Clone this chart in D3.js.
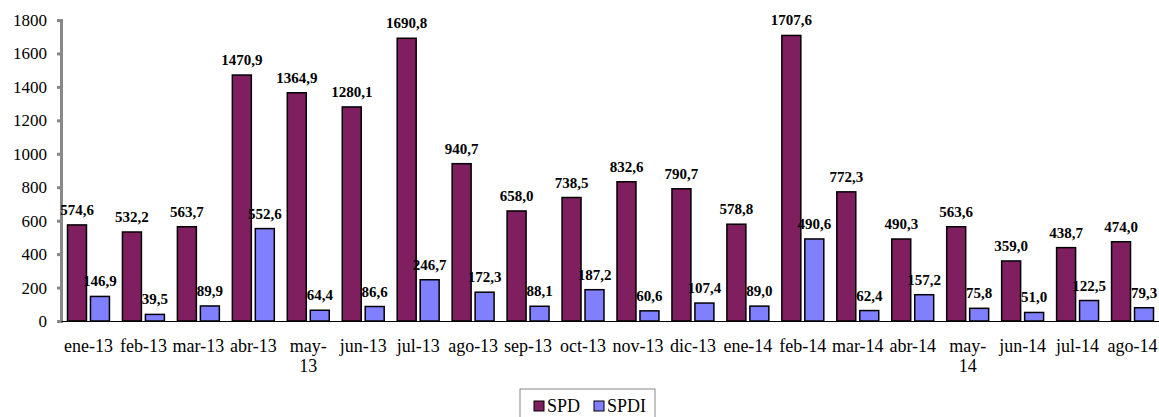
<!DOCTYPE html>
<html lang="es">
<head>
  <meta charset="UTF-8">
  <title>SPD / SPDI</title>
  <style>
    body { margin: 0; background: #fff; }
    text { font-family: "Liberation Serif", "Times New Roman", serif; }
  </style>
</head>
<body>
  <svg id="chart"></svg>
  <script src="https://cdn.jsdelivr.net/npm/d3@7"></script>
  <script>
    var months = ["ene-13", "feb-13", "mar-13", "abr-13", "may-13", "jun-13", "jul-13", "ago-13", "sep-13", "oct-13",
      "nov-13", "dic-13", "ene-14", "feb-14", "mar-14", "abr-14", "may-14", "jun-14", "jul-14", "ago-14"];
    var spd = [574.6, 532.2, 563.7, 1470.9, 1364.9, 1280.1, 1690.8, 940.7, 658.0, 738.5,
      832.6, 790.7, 578.8, 1707.6, 772.3, 490.3, 563.6, 359.0, 438.7, 474.0];
    var spdi = [146.9, 39.5, 89.9, 552.6, 64.4, 86.6, 246.7, 172.3, 88.1, 187.2,
      60.6, 107.4, 89.0, 490.6, 62.4, 157.2, 75.8, 51.0, 122.5, 79.3];
    var seriesNames = ["SPD", "SPDI"];
    var yTicks = [0, 200, 400, 600, 800, 1000, 1200, 1400, 1600, 1800];

    var width = 1159, height = 417;
    var colors = { SPD: "#7f1f5f", SPDI: "#8080ff" };

    var svg = d3.select("#chart").attr("width", width).attr("height", height);

    var x0 = d3.scaleBand().domain(months).range([61, 1160]);
    var x1 = d3.scaleBand().domain(seriesNames)
      .range([0, x0.bandwidth()])
      .paddingInner(0.174)
      .paddingOuter(0.283);
    var y = d3.scaleLinear().domain([0, 1800]).range([321, 20]);

    var rows = months.map(function (m, i) {
      return { month: m, values: [{ key: "SPD", v: spd[i] }, { key: "SPDI", v: spdi[i] }] };
    });

    // y axis (gray)
    var yAxis = svg.append("g")
      .attr("transform", "translate(61,0)")
      .call(d3.axisLeft(y).tickValues(yTicks).tickSize(4).tickPadding(10).tickFormat(d3.format("d")));
    yAxis.select(".domain").attr("stroke", "#888").attr("stroke-width", 3);
    yAxis.selectAll(".tick line").attr("stroke", "#888").attr("stroke-width", 3);
    yAxis.selectAll(".tick text")
      .attr("fill", "#000")
      .style("font-family", "'Liberation Serif', serif")
      .style("font-size", "17px");

    // bars
    var groups = svg.selectAll("g.month")
      .data(rows)
      .enter()
      .append("g")
      .attr("class", "month")
      .attr("transform", function (d) { return "translate(" + x0(d.month) + ",0)"; });

    groups.selectAll("rect")
      .data(function (d) { return d.values; })
      .enter()
      .append("rect")
      .attr("x", function (d) { return x1(d.key); })
      .attr("y", function (d) { return y(d.v); })
      .attr("width", x1.bandwidth())
      .attr("height", function (d) { return y(0) - y(d.v); })
      .attr("fill", function (d) { return colors[d.key]; })
      .attr("stroke", "#000")
      .attr("stroke-width", 1.5);

    // x axis
    var xAxis = svg.append("g")
      .attr("transform", "translate(0," + y(0) + ")")
      .call(d3.axisBottom(x0).tickSize(0).tickPadding(0));
    xAxis.select(".domain").attr("stroke", "#000").attr("stroke-width", 1.2);
    xAxis.selectAll(".tick text")
      .attr("fill", "#000")
      .attr("dy", null)
      .attr("y", 31)
      .style("font-family", "'Liberation Serif', serif")
      .style("font-size", "18px")
      .each(function (d) {
        var t = d3.select(this);
        if (this.getComputedTextLength() > 54) {
          var parts = d.split("-");
          t.text(null);
          t.append("tspan").attr("x", 0).attr("y", 31).text(parts[0] + "-");
          t.append("tspan").attr("x", 0).attr("y", 51).text(parts[1]);
        }
      });

    // value labels
    groups.selectAll("text.val")
      .data(function (d) { return d.values; })
      .enter()
      .append("text")
      .attr("class", "val")
      .attr("x", function (d) { return x1(d.key) + x1.bandwidth() / 2; })
      .attr("y", function (d) { return y(d.v) - 10; })
      .attr("text-anchor", "middle")
      .style("font-size", "15px")
      .style("font-weight", "bold")
      .text(function (d) { return d.v.toFixed(1).replace(".", ","); });

    // legend
    var legend = svg.append("g").attr("transform", "translate(520,389)");
    legend.append("rect")
      .attr("width", 135).attr("height", 40)
      .attr("fill", "#fff").attr("stroke", "#888").attr("stroke-width", 1);
    var items = legend.selectAll("g.item")
      .data(seriesNames)
      .enter()
      .append("g")
      .attr("transform", function (d, i) { return "translate(" + (14 + i * 60) + ",0)"; });
    items.append("rect")
      .attr("y", 12).attr("width", 10).attr("height", 10)
      .attr("fill", function (d) { return colors[d]; })
      .attr("stroke", "#000").attr("stroke-width", 1);
    items.append("text")
      .attr("x", 13).attr("y", 23)
      .style("font-size", "18px")
      .text(function (d) { return d; });
  </script>
</body>
</html>
